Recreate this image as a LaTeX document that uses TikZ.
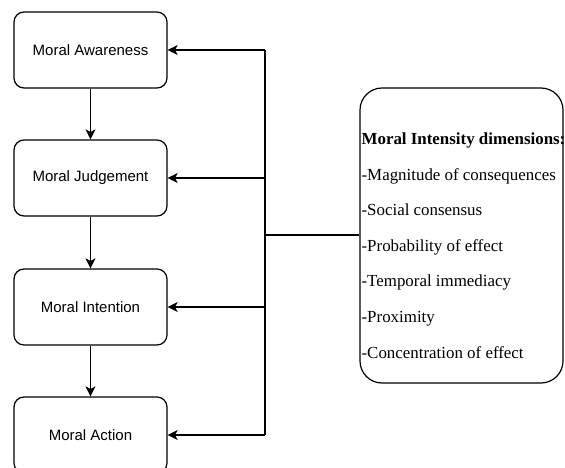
\documentclass[tikz,border=0pt]{standalone}
\usepackage{fontspec}
\setmainfont{Liberation Serif}
\newfontfamily\boxfont{Liberation Sans}
\usetikzlibrary{arrows.meta}

\tikzset{
  stage/.style={draw, line width=1.2pt, rounded corners=10pt, minimum width=153pt,
    minimum height=76pt, font=\boxfont\fontsize{15}{18}\selectfont},
  dimbox/.style={draw, line width=1.2pt, rounded corners=22pt, minimum width=203pt,
    minimum height=295pt}
}

\begin{document}
\begin{tikzpicture}[x=1pt,y=-1pt,line width=1.2pt,->,>={Stealth[length=10pt,width=10pt,inset=2.5pt]}]
   \useasboundingbox (0,0) rectangle (565,468);

   \node[stage] (aware) at (90.5,50) {Moral Awareness};
   \node[stage] (judge) at (90.5,178) {Moral Judgement};
   \node[stage] (intent) at (90.5,307) {Moral Intention};
   \node[stage] (act) at (90.5,435) {Moral Action};

   \node[dimbox] (mi) at (461.5,235.5) {};
   \node[anchor=west, align=left, inner xsep=1pt, font=\fontsize{16.9}{35.6}\selectfont] (dims) at (360,245.5)
     {\textbf{Moral Intensity dimensions:}\\
      -Magnitude of consequences\\
      -Social consensus\\
      -Probability of effect\\
      -Temporal immediacy\\
      -Proximity\\
      -Concentration of effect};

   \coordinate (top) at (265,50);
   \coordinate (mid) at (265,235);
   \coordinate (bot) at (265,435);

   \path (aware) edge (judge);
   \path (judge) edge (intent);
   \path (intent) edge (act);

   \draw[-] (mi.west |- mid) -- (mid);
   \draw[-] (top) -- (bot);
   \path (top) edge (aware);
   \path (mid |- judge) edge (judge);
   \path (mid |- intent) edge (intent);
   \path (bot) edge (act);

\end{tikzpicture}
\end{document}
